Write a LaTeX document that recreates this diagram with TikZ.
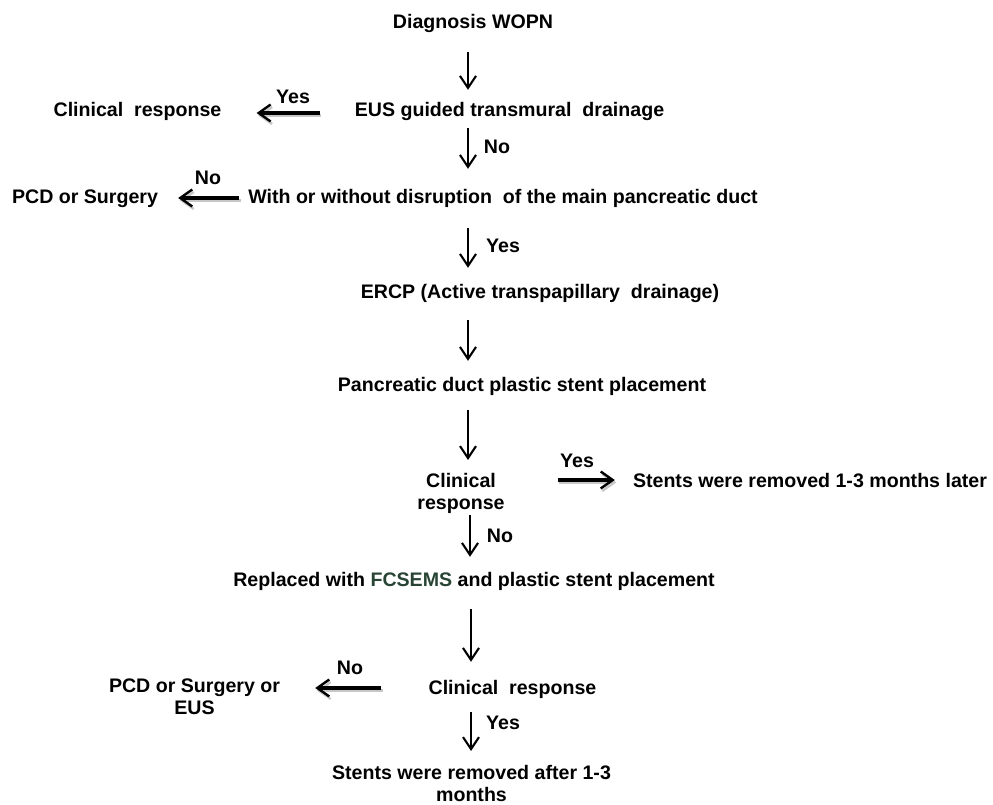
\documentclass[tikz,border=0pt]{standalone}
\usepackage{fontspec}
\setmainfont{Liberation Sans}
\usetikzlibrary{arrows.meta,calc}
\definecolor{fcs}{RGB}{40,68,52}
\tikzset{
  txt/.style={font=\fontsize{19.6}{22}\selectfont\bfseries, inner sep=0pt, text height=14pt, text depth=0pt},
  ml/.style={txt, align=center, text height={}, text depth={}, anchor=north},
  varrow/.style={line width=2.1pt, -{Straight Barb[length=12pt,width=16pt]}},
  harrow/.style={line width=3.2pt, -{Straight Barb[length=12pt,width=17pt,line width=2.4pt]},
    preaction={draw=black!22, line width=3pt, transform canvas={xshift=1.5pt,yshift=-2.5pt}}},
}
\begin{document}
\begin{tikzpicture}[x=1pt,y=-1pt]
\useasboundingbox (0,0) rectangle (993,805);
% nodes
\node[txt] (d) at (473,22) {Diagnosis WOPN};
\node[txt] (eus) at (509.5,110) {EUS guided transmural\ \ drainage};
\node[txt] (clin1) at (137.5,110) {Clinical\ \ response};
\node[txt] (with) at (503,197) {With or without disruption\ \ of the main pancreatic duct};
\node[txt] (pcd) at (85,197) {PCD or Surgery};
\node[txt] (ercp) at (540,291) {ERCP (Active transpapillary\ \ drainage)};
\node[txt] (panc) at (522,384) {Pancreatic duct plastic stent placement};
\node[ml] (cr1) at (461,473) {Clinical\\response};
\node[txt] (st1) at (810,480) {Stents were removed 1-3 months later};
\node[txt] (repl) at (474,579) {Replaced with {\color{fcs}FCSEMS} and plastic stent placement};
\node[txt] (cr2) at (512.5,687) {Clinical\ \ response};
\node[ml] (pcd2) at (194.5,679) {PCD or Surgery or\\EUS};
\node[ml] (st2) at (471.5,765) {Stents were removed after 1-3\\months};
% column coordinates
\coordinate (c1) at (468,0);
\coordinate (c2) at (470,0);
\coordinate (c3) at (471,0);
% vertical arrows
\draw[varrow, shorten <=23pt, shorten >=13pt] (c1 |- d.south) -- (c1 |- eus.north);
\draw[varrow, shorten <=11pt, shorten >=21pt] (c1 |- eus.south) -- (c1 |- with.north);
\draw[varrow, shorten <=24pt, shorten >=16pt] (c1 |- with.south) -- (c1 |- ercp.north);
\draw[varrow, shorten <=22pt, shorten >=16pt] (c1 |- ercp.south) -- (c1 |- panc.north);
\draw[varrow, shorten <=19pt, shorten >=13pt] (c1 |- panc.south) -- (c1 |- cr1.north);
\draw[varrow, shorten <=1pt, shorten >=15pt] (c2 |- cr1.south) -- (c2 |- repl.north);
\draw[varrow, shorten <=23pt, shorten >=18pt] (c3 |- repl.south) -- (c3 |- cr2.north);
\draw[varrow, shorten <=18pt, shorten >=14pt] (c3 |- cr2.south) -- (c3 |- st2.north);
% horizontal arrows
\draw[harrow, shorten <=35pt, shorten >=35pt] ([yshift=-3pt]eus.west) -- ([yshift=-3pt]clin1.east);
\draw[harrow, shorten <=9pt, shorten >=20pt] ([yshift=-1pt]with.west) -- ([yshift=-1pt]pcd.east);
\draw[harrow, shorten <=53pt, shorten >=18pt] (cr1.east |- st1.west) -- (st1.west);
\draw[harrow, shorten <=47pt, shorten >=35pt] ([yshift=-1pt]cr2.west) -- ([yshift=-1pt]cr2.west -| pcd2.east);
% labels
\node[txt] (l1) at (293,97) {Yes};
\node[txt] (l2) at (497,147) {No};
\node[txt] (l3) at (208,178) {No};
\node[txt] (l4) at (503,245) {Yes};
\node[txt] (l5) at (577,460) {Yes};
\node[txt] (l6) at (500,535) {No};
\node[txt] (l7) at (350,667) {No};
\node[txt] (l8) at (503,722) {Yes};
\end{tikzpicture}
\end{document}
